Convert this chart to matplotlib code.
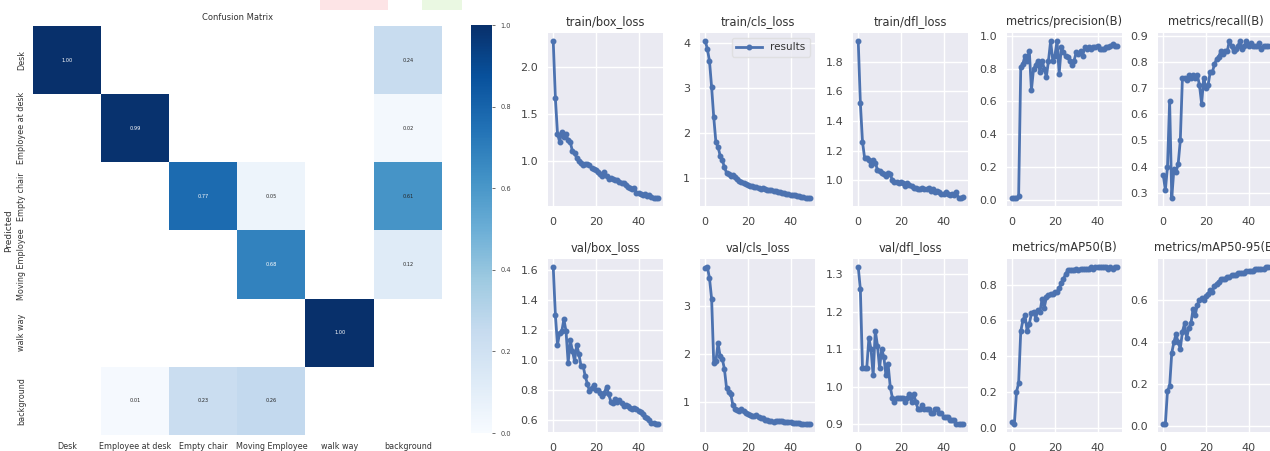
import numpy as np
import matplotlib
matplotlib.use("Agg")
import matplotlib.pyplot as plt
from matplotlib.patches import Rectangle

# ---------------- data ----------------
classes = ["Desk", "Employee at desk", "Empty chair", "Moving Employee", "walk way", "background"]
nan = np.nan
cm_rows = [
    [1.00, nan, nan, nan, nan, 0.24],
    [nan, 0.99, nan, nan, nan, 0.02],
    [nan, nan, 0.77, 0.05, nan, 0.61],
    [nan, nan, nan, 0.68, nan, 0.12],
    [nan, nan, nan, nan, 1.00, nan],
    [nan, 0.01, 0.23, 0.26, nan, nan],
]
cbar_ticks = [0.0, 0.2, 0.4, 0.6, 0.8, 1.0]

epochs = list(range(50))
train_box_loss = [2.28, 1.67, 1.29, 1.20, 1.31, 1.25, 1.28, 1.22, 1.20, 1.10,
                  1.08, 1.03, 1.00, 0.98, 0.95, 0.96, 0.96, 0.95, 0.92, 0.91,
                  0.90, 0.88, 0.86, 0.84, 0.88, 0.84, 0.80, 0.82, 0.80, 0.79,
                  0.79, 0.77, 0.76, 0.76, 0.74, 0.72, 0.71, 0.70, 0.71, 0.66,
                  0.65, 0.64, 0.63, 0.64, 0.62, 0.63, 0.61, 0.60, 0.60, 0.60]
train_cls_loss = [4.05, 3.87, 3.60, 3.02, 2.35, 1.80, 1.70, 1.50, 1.40, 1.25,
                  1.12, 1.10, 1.05, 1.08, 1.02, 0.98, 0.95, 0.92, 0.90, 0.88,
                  0.86, 0.84, 0.83, 0.81, 0.80, 0.79, 0.77, 0.78, 0.76, 0.74,
                  0.73, 0.74, 0.72, 0.71, 0.70, 0.69, 0.68, 0.67, 0.66, 0.65,
                  0.64, 0.63, 0.62, 0.61, 0.60, 0.59, 0.58, 0.57, 0.56, 0.56]
train_dfl_loss = [1.94, 1.52, 1.26, 1.15, 1.15, 1.14, 1.10, 1.14, 1.12, 1.07,
                  1.06, 1.05, 1.04, 1.03, 1.05, 1.04, 1.00, 0.99, 0.99, 0.98,
                  0.99, 0.98, 0.96, 0.98, 0.97, 0.96, 0.95, 0.95, 0.94, 0.94,
                  0.95, 0.94, 0.94, 0.95, 0.93, 0.94, 0.92, 0.93, 0.92, 0.91,
                  0.91, 0.92, 0.91, 0.90, 0.91, 0.90, 0.92, 0.88, 0.88, 0.89]
precision = [0.01, 0.01, 0.01, 0.02, 0.81, 0.83, 0.88, 0.85, 0.91, 0.67,
             0.80, 0.82, 0.85, 0.78, 0.85, 0.80, 0.75, 0.85, 0.97, 0.85,
             0.88, 0.97, 0.77, 0.93, 0.90, 0.88, 0.87, 0.85, 0.82, 0.85,
             0.90, 0.89, 0.91, 0.88, 0.93, 0.92, 0.93, 0.92, 0.93, 0.93,
             0.94, 0.92, 0.92, 0.92, 0.93, 0.93, 0.94, 0.95, 0.94, 0.94]
recall = [0.37, 0.31, 0.40, 0.65, 0.28, 0.39, 0.38, 0.41, 0.50, 0.74,
          0.74, 0.73, 0.75, 0.74, 0.75, 0.74, 0.75, 0.71, 0.64, 0.74,
          0.70, 0.71, 0.76, 0.76, 0.79, 0.81, 0.82, 0.84, 0.83, 0.84,
          0.84, 0.88, 0.86, 0.84, 0.85, 0.86, 0.88, 0.85, 0.86, 0.88,
          0.86, 0.87, 0.86, 0.86, 0.86, 0.87, 0.85, 0.86, 0.86, 0.86]
val_box_loss = [1.62, 1.30, 1.10, 1.18, 1.19, 1.27, 1.19, 0.98, 1.13, 1.06,
                0.99, 1.10, 1.04, 0.96, 0.96, 0.89, 0.84, 0.79, 0.81, 0.83,
                0.80, 0.80, 0.78, 0.76, 0.78, 0.82, 0.77, 0.72, 0.71, 0.74,
                0.72, 0.73, 0.71, 0.69, 0.70, 0.69, 0.68, 0.67, 0.68, 0.67,
                0.66, 0.65, 0.64, 0.62, 0.61, 0.60, 0.58, 0.58, 0.57, 0.57]
val_cls_loss = [3.80, 3.82, 3.58, 3.15, 1.80, 1.85, 2.22, 1.95, 1.90, 1.68,
                1.28, 1.20, 1.15, 0.92, 0.85, 0.82, 0.80, 0.85, 0.80, 0.76,
                0.74, 0.72, 0.70, 0.70, 0.72, 0.68, 0.66, 0.65, 0.62, 0.61,
                0.60, 0.60, 0.58, 0.60, 0.60, 0.59, 0.60, 0.58, 0.58, 0.57,
                0.57, 0.56, 0.56, 0.55, 0.56, 0.54, 0.54, 0.54, 0.53, 0.53]
val_dfl_loss = [1.32, 1.26, 1.05, 1.05, 1.05, 1.13, 1.10, 1.03, 1.15, 1.11,
                1.05, 1.10, 1.08, 1.03, 1.06, 1.00, 0.97, 0.96, 0.97, 0.97,
                0.97, 0.97, 0.96, 0.97, 0.98, 0.96, 0.98, 0.96, 0.94, 0.94,
                0.95, 0.94, 0.94, 0.94, 0.93, 0.93, 0.94, 0.94, 0.93, 0.93,
                0.92, 0.92, 0.92, 0.91, 0.91, 0.91, 0.90, 0.90, 0.90, 0.90]
map50 = [0.03, 0.02, 0.20, 0.25, 0.54, 0.60, 0.63, 0.54, 0.58, 0.64,
         0.65, 0.61, 0.66, 0.65, 0.72, 0.67, 0.73, 0.74, 0.75, 0.75,
         0.76, 0.76, 0.78, 0.81, 0.83, 0.86, 0.88, 0.88, 0.88, 0.88,
         0.89, 0.88, 0.89, 0.89, 0.89, 0.89, 0.89, 0.90, 0.89, 0.90,
         0.90, 0.90, 0.90, 0.90, 0.90, 0.89, 0.90, 0.89, 0.90, 0.90]
map50_95 = [0.01, 0.01, 0.17, 0.19, 0.35, 0.40, 0.44, 0.40, 0.37, 0.45,
            0.49, 0.42, 0.47, 0.49, 0.56, 0.53, 0.58, 0.60, 0.61, 0.60,
            0.62, 0.63, 0.65, 0.64, 0.67, 0.68, 0.69, 0.70, 0.70, 0.70,
            0.71, 0.71, 0.72, 0.72, 0.72, 0.73, 0.73, 0.73, 0.73, 0.74,
            0.74, 0.74, 0.74, 0.75, 0.75, 0.75, 0.75, 0.75, 0.76, 0.76]

panel_titles = ["train/box_loss", "train/cls_loss", "train/dfl_loss", "metrics/precision(B)", "metrics/recall(B)",
                "val/box_loss", "val/cls_loss", "val/dfl_loss", "metrics/mAP50(B)", "metrics/mAP50-95(B)"]
panel_series = [train_box_loss, train_cls_loss, train_dfl_loss, precision, recall,
                val_box_loss, val_cls_loss, val_dfl_loss, map50, map50_95]

# ---------------- figure ----------------
W, H = 1270, 451
fig = plt.figure(figsize=(W / 100, H / 100), dpi=100)
plt.rcParams['font.family'] = ['DejaVu Sans']

def px_axes(x0, y0, x1, y1):
    return fig.add_axes([x0 / W, 1 - y1 / H, (x1 - x0) / W, (y1 - y0) / H])

# faint artifacts at top
fig.patches.append(Rectangle((320 / W, 1 - 10 / H), 68 / W, 10 / H, transform=fig.transFigure,
                             facecolor="#fde4e6", edgecolor="none", zorder=0))
fig.patches.append(Rectangle((422 / W, 1 - 10 / H), 40 / W, 10 / H, transform=fig.transFigure,
                             facecolor="#eaf8e2", edgecolor="none", zorder=0))

# ---- confusion matrix ----
cm = np.array(cm_rows, dtype=float)
ax = px_axes(33, 26, 442, 435)
cmap = plt.get_cmap("Blues")
im = ax.imshow(np.ma.masked_invalid(cm), cmap=cmap, vmin=0, vmax=1, aspect="auto",
               interpolation="nearest")
n = len(classes)
for i in range(n):
    for j in range(n):
        v = cm[i, j]
        if not np.isnan(v):
            r, g, b, _ = cmap(v)
            lum = 0.299 * r + 0.587 * g + 0.114 * b
            ax.text(j, i, f"{v:.2f}", ha="center", va="center", fontsize=3.6,
                    color="white" if lum < 0.5 else "#262626")
ax.set_xticks(range(n))
ax.set_xticklabels(classes, fontsize=5.8, color="#333333")
ax.set_yticks(range(n))
ax.set_yticklabels(classes, fontsize=5.8, color="#333333", rotation=90, va="center")
ax.tick_params(length=0, pad=5)
for s in ax.spines.values():
    s.set_visible(False)
ax.set_title("Confusion Matrix", fontsize=6, color="#333333", pad=4)
ax.set_ylabel("Predicted", fontsize=6.5, color="#333333", labelpad=3)

cax = px_axes(471, 25, 492, 433)
cb = fig.colorbar(im, cax=cax)
cb.outline.set_visible(False)
cb.set_ticks(cbar_ticks)
cb.ax.tick_params(labelsize=4.8, length=2.5, width=0.6, color="#555555", labelcolor="#444444")

# ---- results grid ----
col_left = [548, 700, 853, 1007, 1158]
col_w = 115
row_tb = [(33, 206), (259, 432)]
line_color = "#4C72B0"
for k, (title, ys) in enumerate(zip(panel_titles, panel_series)):
    r, c = divmod(k, 5)
    x0 = col_left[c]
    y0, y1 = row_tb[r]
    a = px_axes(x0, y0, x0 + col_w, y1)
    a.set_facecolor("#EAEAF2")
    a.grid(True, color="white", linewidth=1.0)
    a.set_axisbelow(True)
    for s in a.spines.values():
        s.set_visible(False)
    a.plot(epochs, ys, marker=".", color=line_color, linewidth=2, markersize=6.5, label="results")
    a.set_title(title, fontsize=8.3, color="#333333", pad=6)
    a.set_xticks([0, 20, 40])
    a.tick_params(axis="x", length=0, labelsize=8, labelcolor="#444444", pad=8)
    a.tick_params(axis="y", length=0, labelsize=8, labelcolor="#444444", pad=7)
    if k == 1:
        a.legend(loc="upper right", fontsize=7.5, frameon=True, facecolor="#EAEAF2",
                 edgecolor="#dddddd", handlelength=2.5, borderpad=0.4, labelcolor="#333333")

fig.savefig("out.png", dpi=100, facecolor="white")
